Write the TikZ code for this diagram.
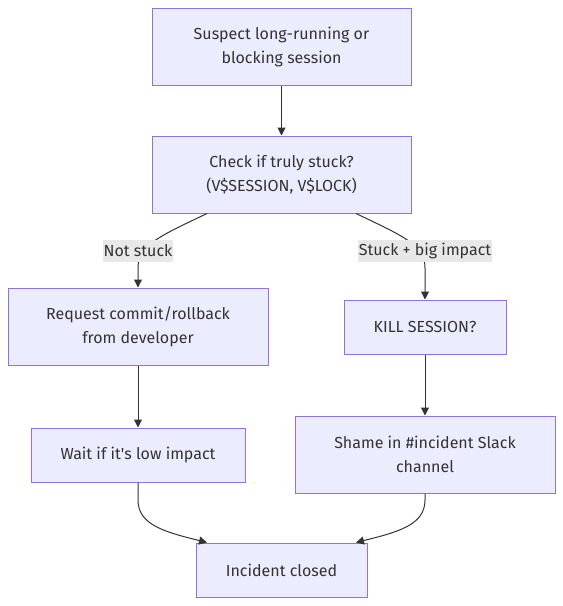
\documentclass[tikz,border=0pt]{standalone}
\usepackage{fontspec}
\setmainfont{Fira Sans}
\usetikzlibrary{arrows.meta}
\definecolor{nodefill}{HTML}{ECECFF}
\definecolor{nodeline}{HTML}{9370DB}
\definecolor{edgecol}{HTML}{333333}
\definecolor{txtcol}{HTML}{333333}
\definecolor{lblfill}{HTML}{E8E8E8}
\begin{document}
\begin{tikzpicture}[x=1pt,y=-1pt,
  box/.style={draw=nodeline,fill=nodefill,line width=1pt,inner sep=0pt,align=center,
    text=txtcol,font=\fontsize{16}{24}\selectfont},
  edge/.style={draw=edgecol,line width=1pt,-{Triangle[length=8pt,width=8pt]}},
  elabel/.style={fill=lblfill,text=txtcol,inner sep=1pt,font=\fontsize{16}{20}\selectfont,
    minimum height=22pt}]
\useasboundingbox (0,0) rectangle (563,606);
\node[box,minimum width=259pt,minimum height=77pt] (s) at (281.5,46.5) {Suspect long-running or\\blocking session};
\node[box,minimum width=259pt,minimum height=77pt] (c) at (281.5,174.5) {Check if truly stuck?\\(V\$SESSION, V\$LOCK)};
\node[box,minimum width=260pt,minimum height=77pt] (r) at (138,326.5) {Request commit/rollback\\from developer};
\node[box,minimum width=162pt,minimum height=54pt] (k) at (425,327) {KILL SESSION?};
\node[box,minimum width=214pt,minimum height=54pt] (w) at (138,455) {Wait if it\textquotesingle s low impact};
\node[box,minimum width=260pt,minimum height=77pt] (sh) at (425,454.5) {Shame in \#incident Slack\\channel};
\node[box,minimum width=171pt,minimum height=54pt] (i) at (281.5,570) {Incident closed};
\draw[edge] (s) -- (c);
\draw[edge] (c.south -| 207,0) .. controls (160,236) and (138,245) .. (138,268) -- (r.north);
\draw[edge] (c.south -| 356,0) .. controls (403,236) and (425,245) .. (425,268) -- (k.north);
\draw[edge] (r) -- (w);
\draw[edge] (k) -- (sh);
\draw[edge] (w.south) -- (138,500) .. controls (138,525) and (165,532) .. (i.north -| 207,0);
\draw[edge] (sh.south) -- (425,500) .. controls (425,525) and (398,532) .. (i.north -| 356,0);
\node[elabel] (l1) at (138,251) {Not stuck};
\node[elabel] (l2) at (425,251) {Stuck + big impact};
\end{tikzpicture}
\end{document}
